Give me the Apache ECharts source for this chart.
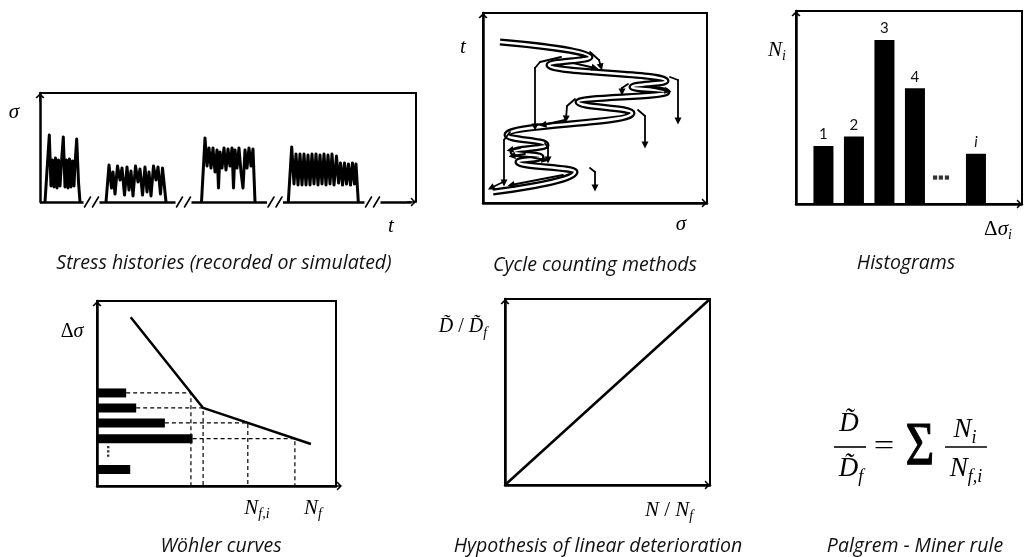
<!DOCTYPE html>
<html>
<head>
<meta charset="utf-8">
<script src="https://cdn.jsdelivr.net/npm/echarts@6/dist/echarts.min.js"></script>
<style>
  html, body { margin: 0; padding: 0; background: #fff; }
  #chart { width: 1024px; height: 557px; }
</style>
</head>
<body>
<div id="chart"></div>
<script>
// ---------- Stress histories: four recorded load blocks, [t, σ] ----------
const stressBlockA = [[5,0],[9.3,67],[11,16],[12.5,42],[14,15],[15.5,44],[17,14],[18.5,42],[20,16],[21.5,40],[23.3,65],[25,15],[26.5,42],[28,14],[29.5,43],[31,15],[32.5,41],[34,16],[35,38],[36.7,63],[38.5,20],[40,0]];
const stressBlockB = [[66,0],[69,37],[71.5,14],[73,30],[75,8],[77.5,36],[80,22],[82,34],[84.5,7],[87,35],[89,12],[91,31],[93,6],[95.5,36],[98,20],[100,33],[102.5,7],[105,35],[107,10],[109,30],[111,6],[113.5,36],[116,22],[118,35],[120.5,8],[122.5,34],[124.5,32],[126,0]];
const stressBlockC = [[161.5,0],[165,64],[167,36],[169,54],[171,34],[173,54],[175,30],[177,52],[178.5,14],[180,50],[182,34],[184,54],[186,32],[188,53],[190,36],[192,54],[193.5,14],[195,52],[197,34],[199,54],[201,30],[203,14],[205,52],[207,34],[209,54],[211,36],[213,53],[215,0]];
const stressBlockD = [[248.3,0],[251.7,55],[254,18],[256,48],[258,17],[260,48],[262,17],[264,48],[266,17],[268,47],[270,17],[272,48],[274,18],[276,48],[278,17],[280,47],[282,18],[284,48],[286,17],[288,47],[290,18],[292,48],[294,17],[296.5,46],[298.5,19],[300.5,39],[302.5,17],[304.5,39],[306.5,18],[308.5,38],[310.5,17],[312.5,39],[314.5,18],[316,38],[318.3,0]];
const timeAxisMax = 376;
const stressAxisMax = 109;
const axisBreaks = [51.5, 143.5, 235, 332.5];   // "//" breaks on the time axis

// ---------- Cycle counting: load path turning points, [σ, t] ----------
const rainflowPath = [[17,161],[107,146],[66,138],[183,122],[149,116],[184,111],[95,101],[149,90],[24,68],[63,58],[30,51],[58,46],[35,41],[92,31],[10,11]];
// rain drops falling from the turning points
const rainflowDrops = [
  [[78,146],[57,141],[52,135],[52,76]],
  [[107,151],[116,143],[118,136]],
  [[90,140],[112,135]],
  [[187,126],[195,123],[195,82]],
  [[145,119],[139,115],[139,111]],
  [[167,116],[185,112]],
  [[92,104],[84,97],[83,84]],
  [[155,93],[162,87],[162,58]],
  [[82,83],[60,78]],
  [[27,71],[21,63],[21,20]],
  [[37,55],[27,53]],
  [[42,49],[29,47]],
  [[47,46],[62,43]],
  [[62,60],[65,55],[65,43]],
  [[107,35],[112,31],[112,15]],
  [[80,28],[28,18]],
  [[20,21],[8,15]]
];
const cycleAxisMax = [224, 190];

// ---------- Histogram of stress ranges ----------
const histLabels = ['1', '2', '3', '4', 'i'];
const histPositions = [1, 2, 3, 4, 6];
const histCounts = [30, 35, 85, 60, 26];
const histEllipsis = [[4.66, 13.7], [4.85, 13.7], [5.05, 13.7]];

// ---------- Wöhler (S-N) curve ----------
const wohlerCurve = [[14.1, 91.2], [44.4, 42.2], [89.5, 22.7]];
const wohlerLevels = [50.3, 42.2, 34.1, 25.6, 8.9];      // Δσ of each class
const wohlerCycles = [12.2, 16.4, 28.4, 40.0, 13.9];     // N_i of each class
const wohlerLife = [39.3, 44.4, 63.1, 82.8];             // N_f,i read on the curve
const wohlerEllipsis = [[4.7, 16.4], [4.7, 18.7], [4.7, 21.0]];

// ---------- Linear damage accumulation ----------
const linearDamage = [[0, 0], [1, 1]];

// ---------- shared styling ----------
const INK = '#000';
const MATH_FONT = "'Liberation Serif', 'DejaVu Serif', serif";
const TITLE_FONT = "'Open Sans', Lato, sans-serif";
const ARROW = 'path://M0,10 L10,0 L20,10 L17,12 L11.5,6.5 L11.5,20 L8.5,20 L8.5,6.5 L3,12 Z';
const ARROW_SIZE = [13, 9];

// axis index per panel (panel 0 owns two x and two y axes)
const AX = { stress: 0, cycle: 2, hist: 3, wohler: 4, linear: 5 };

function plainAxis(gridIndex, min, max, position, lineShow, arrow, extra) {
  return Object.assign({
    type: 'value', gridIndex, min, max, position,
    axisLine: {
      show: lineShow, onZero: false,
      lineStyle: { color: INK, width: arrow ? 2.5 : 2 },
      symbol: arrow ? ['none', ARROW] : 'none',
      symbolSize: ARROW_SIZE,
      symbolOffset: [0, -4.5]
    },
    axisTick: { show: false }, axisLabel: { show: false }, splitLine: { show: false }
  }, extra || {});
}

const boxedGrid = { show: true, borderColor: INK, borderWidth: 2, backgroundColor: 'transparent' };

// ---------- derived geometry for the broken time axis ----------
const BREAK_GAP = 8;
const baselineSegments = [];
let segStart = 0;
axisBreaks.forEach(b => { baselineSegments.push({ coords: [[segStart, 0], [b - BREAK_GAP, 0]] }); segStart = b + BREAK_GAP; });
const baselineArrow = [{ coords: [[segStart, 0], [timeAxisMax - 4.5, 0]] }];
const breakSlashes = [];
axisBreaks.forEach(b => [-4, 4].forEach(o => breakSlashes.push({ coords: [[b + o - 3, -5], [b + o + 3, 5]] })));

// rain drops: bent part as plain segments, last segment carries the arrow head
const dropBodies = [];
const dropHeads = [];
rainflowDrops.forEach(path => {
  for (let k = 0; k < path.length - 1; k++) {
    (k === path.length - 2 ? dropHeads : dropBodies).push({ coords: [path[k], path[k + 1]] });
  }
});

function lineSeries(ax, data, width, color, extra) {
  return Object.assign({
    type: 'line', xAxisIndex: ax, yAxisIndex: ax, data,
    showSymbol: false, symbol: 'none', clip: false, animation: false, silent: true,
    lineStyle: { color: color || INK, width, join: 'round', cap: 'butt' }
  }, extra || {});
}
function linesSeries(ax, data, width, extra) {
  return Object.assign({
    type: 'lines', coordinateSystem: 'cartesian2d', xAxisIndex: ax, yAxisIndex: ax,
    clip: false, silent: true, data,
    lineStyle: { color: INK, width, opacity: 1, curveness: 0, cap: 'round' }, symbol: 'none'
  }, extra || {});
}

// ---------- text helpers ----------
function richStyles(size) {
  return {
    m: { fontFamily: MATH_FONT, fontStyle: 'italic', fontSize: size, lineHeight: Math.round(size * 1.3), fill: INK },
    u: { fontFamily: MATH_FONT, fontSize: size, lineHeight: Math.round(size * 1.3), fill: INK },
    s: { fontFamily: MATH_FONT, fontStyle: 'italic', fontSize: Math.round(size * 0.68), lineHeight: Math.round(size * 0.68), verticalAlign: 'bottom', fill: INK }
  };
}
function mathText(x, y, text, size, extra) {
  return Object.assign({
    type: 'text', x, y, z: 20, silent: true,
    style: { text, rich: richStyles(size), align: 'center', verticalAlign: 'middle', fill: INK }
  }, extra || {});
}
function titleText(x, y, text) {
  return {
    type: 'text', x, y, z: 20, silent: true,
    style: { text, font: 'italic 19.5px ' + TITLE_FONT, fill: '#111', align: 'center', verticalAlign: 'middle' }
  };
}
function hLine(x1, x2, y, w) {
  return { type: 'line', z: 20, silent: true, shape: { x1, y1: y, x2, y2: y }, style: { stroke: INK, lineWidth: w } };
}

const TILDE_D = 'D\u0303';

const option = {
  backgroundColor: '#fff',
  animation: false,
  grid: [
    { left: 40, top: 93, width: 376, height: 109 },
    Object.assign({ left: 483, top: 13, width: 224, height: 190 }, boxedGrid),
    Object.assign({ left: 796, top: 11, width: 226, height: 193 }, boxedGrid),
    Object.assign({ left: 97, top: 301, width: 239, height: 185 }, boxedGrid),
    Object.assign({ left: 505, top: 299, width: 205, height: 186 }, boxedGrid)
  ],
  xAxis: [
    plainAxis(0, 0, timeAxisMax, 'bottom', false, false),
    plainAxis(0, 0, timeAxisMax, 'top', true, false),
    plainAxis(1, 0, cycleAxisMax[0], 'bottom', true, true),
    plainAxis(2, 0.1, 7.51, 'bottom', true, true),
    plainAxis(3, 0, 100, 'bottom', true, true, { axisLine: { show: true, onZero: false, lineStyle: { color: INK, width: 2.5 }, symbol: ['none', ARROW], symbolSize: ARROW_SIZE, symbolOffset: [0, 1.5] } }),
    plainAxis(4, 0, 1, 'bottom', true, true)
  ],
  yAxis: [
    plainAxis(0, 0, stressAxisMax, 'left', true, true),
    plainAxis(0, 0, stressAxisMax, 'right', true, false),
    plainAxis(1, 0, cycleAxisMax[1], 'left', true, true),
    plainAxis(2, 0, 100, 'left', true, true),
    plainAxis(3, 0, 100, 'left', true, true),
    plainAxis(4, 0, 1, 'left', true, true)
  ],
  series: [
    // stress histories
    lineSeries(AX.stress, stressBlockA, 3),
    lineSeries(AX.stress, stressBlockB, 3),
    lineSeries(AX.stress, stressBlockC, 3),
    lineSeries(AX.stress, stressBlockD, 3),
    linesSeries(AX.stress, baselineSegments, 2.5, { lineStyle: { color: INK, width: 2.5, opacity: 1, curveness: 0 } }),
    linesSeries(AX.stress, baselineArrow, 2.5, { symbol: ['none', ARROW], symbolSize: ARROW_SIZE, lineStyle: { color: INK, width: 2.5, opacity: 1, curveness: 0 } }),
    linesSeries(AX.stress, breakSlashes, 1.6),

    // cycle counting (rainflow)
    lineSeries(AX.cycle, rainflowPath, 7, INK, { smooth: 0.5, smoothMonotone: 'y', z: 3 }),
    lineSeries(AX.cycle, rainflowPath, 2.6, '#fff', { smooth: 0.5, smoothMonotone: 'y', z: 4 }),
    linesSeries(AX.cycle, dropBodies, 1.8, { z: 5 }),
    linesSeries(AX.cycle, dropHeads, 1.8, { z: 5, symbol: ['none', 'triangle'], symbolSize: 7 }),

    // histogram
    { type: 'bar', xAxisIndex: AX.hist, yAxisIndex: AX.hist, barWidth: 20, silent: true,
      data: histPositions.map((p, i) => ({ value: [p, histCounts[i]], name: histLabels[i] })),
      itemStyle: { color: INK },
      label: { show: true, position: 'top', distance: 4, color: '#111',
        fontFamily: "Lato, 'Open Sans', sans-serif", fontSize: 15,
        formatter: p => (p.name === 'i' ? '{it|i}' : p.name),
        rich: { it: { fontFamily: "Lato, 'Open Sans', sans-serif", fontStyle: 'italic', fontSize: 15, color: '#111' } } } },
    { type: 'scatter', xAxisIndex: AX.hist, yAxisIndex: AX.hist, data: histEllipsis, symbol: 'rect', symbolSize: 4.2,
      itemStyle: { color: INK }, silent: true },

    // Wöhler curve with the stress-range classes
    lineSeries(AX.wohler, wohlerCurve, 2.5),
    ...wohlerLife.map((nf, i) => lineSeries(AX.wohler,
      [[wohlerCycles[i], wohlerLevels[i]], [nf, wohlerLevels[i]], [nf, 0]], 1.2, INK,
      { lineStyle: { color: INK, width: 1.2, type: [4, 3] } })),
    { type: 'custom', xAxisIndex: AX.wohler, yAxisIndex: AX.wohler, silent: true, clip: false,
      data: wohlerLevels.map((lv, i) => [wohlerCycles[i], lv]),
      renderItem: (params, api) => {
        const end = api.coord([api.value(0), api.value(1)]);
        const start = api.coord([0, api.value(1)]);
        const h = 9;
        return { type: 'rect', shape: { x: start[0], y: start[1] - h / 2, width: end[0] - start[0], height: h },
                 style: { fill: INK } };
      } },
    { type: 'scatter', xAxisIndex: AX.wohler, yAxisIndex: AX.wohler, data: wohlerEllipsis, symbol: 'rect', symbolSize: [2.4, 2.2],
      itemStyle: { color: INK }, silent: true },

    // linear deterioration
    lineSeries(AX.linear, linearDamage, 2.5)
  ],
  graphic: [
    // axis names
    mathText(14, 112, '{m|σ}', 21),
    mathText(391, 226, '{m|t}', 21),
    mathText(463, 47, '{m|t}', 21),
    mathText(681, 224, '{m|σ}', 21),
    mathText(777, 50, '{m|N}{s|i}', 21),
    mathText(998, 229, '{u|Δ}{m|σ}{s|i}', 21),
    mathText(72, 332, '{u|Δ}{m|σ}', 20),
    mathText(257, 508, '{m|N}{s|f,i}', 21),
    mathText(313, 508, '{m|N}{s|f}', 21),
    mathText(463, 327, '{m|' + TILDE_D + '}{u| / }{m|' + TILDE_D + '}{s|f}', 20),
    mathText(669, 510, '{m|N}{u| / }{m|N}{s|f}', 21),

    // Palmgren–Miner rule
    mathText(849, 424, '{m|' + TILDE_D + '}', 27),
    hLine(834, 866, 447, 1.6),
    mathText(851, 469, '{m|' + TILDE_D + '}{s|f}', 27),
    { type: 'text', x: 884, y: 447, scaleX: 1.3, z: 20, silent: true,
      style: { text: '=', font: '28px ' + MATH_FONT, fill: INK, align: 'center', verticalAlign: 'middle' } },
    { type: 'text', x: 920, y: 448, scaleX: 1.3, scaleY: 1.6, z: 20, silent: true,
      style: { text: 'Σ', font: '38px ' + MATH_FONT, fill: INK, stroke: INK, lineWidth: 0.7, align: 'center', verticalAlign: 'middle' } },
    mathText(965, 430, '{m|N}{s|i}', 27),
    hLine(945, 987, 447, 1.6),
    mathText(966, 469, '{m|N}{s|f,i}', 27),

    // panel captions
    titleText(224, 263, 'Stress histories (recorded or simulated)'),
    titleText(595, 265, 'Cycle counting methods'),
    titleText(906, 263, 'Histograms'),
    titleText(221, 546, 'Wöhler curves'),
    titleText(598, 546, 'Hypothesis of linear deterioration'),
    titleText(915, 546, 'Palgrem - Miner rule')
  ]
};

const chart = echarts.init(document.getElementById('chart'), null, { renderer: 'canvas' });
chart.setOption(option);
</script>
</body>
</html>
